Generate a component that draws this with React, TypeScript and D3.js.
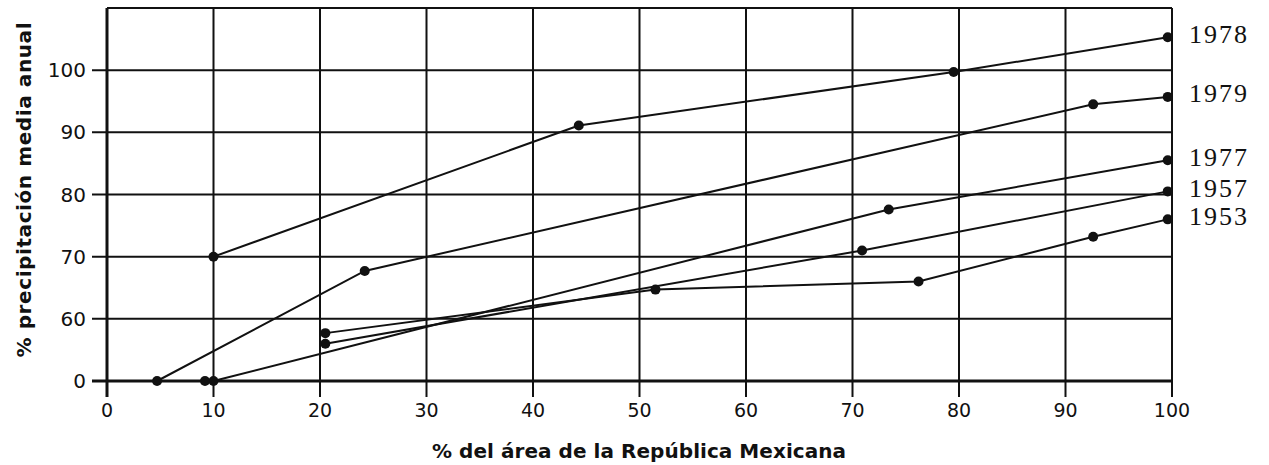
import React from "react";
import * as d3 from "d3";

// ---- data ----
const yearLabels = ["1978", "1979", "1977", "1957", "1953"];
const s1978x = [10, 44.3, 79.5, 99.6];
const s1978y = [70, 91.1, 99.7, 105.3];
const s1979x = [4.7, 24.2, 92.6, 99.6];
const s1979y = [0, 67.7, 94.5, 95.7];
const s1977x = [10, 73.4, 99.6];
const s1977y = [0, 77.6, 85.5];
const s1957x = [20.5, 70.9, 99.6];
const s1957y = [56, 71, 80.5];
const s1953x = [20.5, 51.5, 76.2, 92.6, 99.6];
const s1953y = [57.7, 64.7, 66, 73.2, 76];
const extraDotX = [9.2];
const extraDotY = [0];
const xTicks = [0, 10, 20, 30, 40, 50, 60, 70, 80, 90, 100];
const yTicks = [0, 60, 70, 80, 90, 100];

// axis is broken: label "0" sits where 50 would be
const toScale = (v: number) => (v === 0 ? 50 : v);

const seriesX = [s1978x, s1979x, s1977x, s1957x, s1953x];
const seriesY = [s1978y, s1979y, s1977y, s1957y, s1953y];

export default function App() {
  const W = 1269, H = 465;
  const x = d3.scaleLinear().domain([0, 100]).range([107, 1172]);
  const y = d3.scaleLinear().domain([50, 110]).range([381, 8]);
  const ink = "#111";
  const line = d3
    .line<[number, number]>()
    .x((d) => x(d[0]))
    .y((d) => y(toScale(d[1])));

  const series = seriesX.map((xs, i) =>
    xs.map((v, j) => [v, seriesY[i][j]] as [number, number])
  );

  return (
    <svg
      width={W}
      height={H}
      style={{ position: "absolute", left: 0, top: 0, background: "#fff" }}
      fontFamily="'DejaVu Sans', 'Liberation Sans', Arial, sans-serif"
    >
      {/* horizontal gridlines */}
      {yTicks.map((t) => (
        <line
          key={"hy" + t}
          x1={92}
          x2={x(100)}
          y1={y(toScale(t))}
          y2={y(toScale(t))}
          stroke={ink}
          strokeWidth={t === 0 ? 3 : 2}
        />
      ))}
      {/* top border */}
      <line x1={x(0)} x2={x(100)} y1={y(110)} y2={y(110)} stroke={ink} strokeWidth={2} />
      {/* vertical gridlines */}
      {xTicks.map((t) => (
        <line
          key={"vx" + t}
          x1={x(t)}
          x2={x(t)}
          y1={y(110)}
          y2={397}
          stroke={ink}
          strokeWidth={t === 0 ? 3 : 2}
        />
      ))}
      {/* y tick labels */}
      {yTicks.map((t) => (
        <text
          key={"yl" + t}
          x={86}
          y={y(toScale(t))}
          textAnchor="end"
          dominantBaseline="central"
          fontSize={20}
          fill={ink}
        >
          {t}
        </text>
      ))}
      {/* x tick labels */}
      {xTicks.map((t) => (
        <text
          key={"xl" + t}
          x={x(t)}
          y={417}
          textAnchor="middle"
          fontSize={19}
          fill={ink}
        >
          {t}
        </text>
      ))}
      {/* series lines */}
      {series.map((s, i) => (
        <path key={"p" + i} d={line(s) || ""} fill="none" stroke={ink} strokeWidth={2} />
      ))}
      {/* dots */}
      {series.map((s, i) =>
        s.map((d, j) => (
          <circle key={"c" + i + "-" + j} cx={x(d[0])} cy={y(toScale(d[1]))} r={5} fill={ink} />
        ))
      )}
      {extraDotX.map((v, j) => (
        <circle key={"e" + j} cx={x(v)} cy={y(toScale(extraDotY[j]))} r={5} fill={ink} />
      ))}
      {/* year labels */}
      {series.map((s, i) => {
        const last = s[s.length - 1];
        return (
          <text
            key={"yr" + i}
            x={1189}
            y={y(toScale(last[1])) - 3}
            dominantBaseline="central"
            fontFamily="'Liberation Serif', 'Times New Roman', serif"
            fontSize={26}
            letterSpacing={2}
            fill={ink}
          >
            {yearLabels[i]}
          </text>
        );
      })}
      {/* axis titles */}
      <text
        x={639}
        y={458}
        textAnchor="middle"
        fontSize={20}
        fontWeight="bold"
        textLength={414}
        lengthAdjust="spacing"
        fill={ink}
      >
        % del área de la República Mexicana
      </text>
      <text
        transform={`translate(31,190) rotate(-90)`}
        textAnchor="middle"
        fontSize={20}
        fontWeight="bold"
        textLength={335}
        lengthAdjust="spacing"
        fill={ink}
      >
        % precipitación media anual
      </text>
    </svg>
  );
}
